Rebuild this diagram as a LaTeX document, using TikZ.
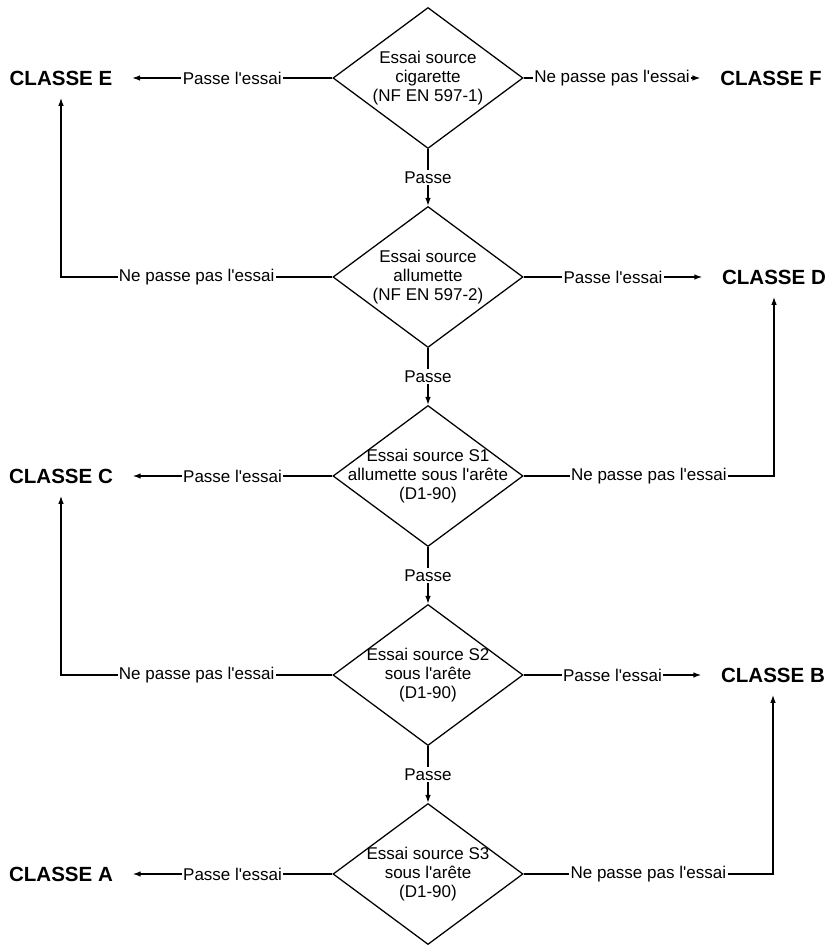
\documentclass[tikz,border=0pt]{standalone}
\usepackage{fontspec}
\newfontfamily\arial{Liberation Sans}
\usetikzlibrary{shapes.geometric,arrows.meta}

\tikzset{
  test/.style={diamond, draw, minimum width=4.75cm, minimum height=3.525cm, inner sep=0pt},
  testtxt/.style={align=center, font=\arial\fontsize{12.1}{13.6}\selectfont},
  classe/.style={font=\arial\bfseries\fontsize{14.6}{16}\selectfont, inner xsep=0.48cm, inner ysep=0.3cm},
  lbl/.style={fill=white, inner xsep=1pt, inner ysep=1pt, font=\arial\fontsize{12.1}{13.6}\selectfont}
}

\begin{document}
\begin{tikzpicture}[x=0.025cm, y=-0.025cm, line width=0.9pt, >={Latex[length=2mm,width=1.4mm]}]
  \useasboundingbox (0,0) rectangle (828,945);
  % tests
  \node[test] (d1) at (428,78) {};
  \node[test] (d2) at (428,277) {};
  \node[test] (d3) at (428,476) {};
  \node[test] (d4) at (428,675) {};
  \node[test] (d5) at (428,874) {};
  \node[testtxt] (t1) at (d1) {Essai source\\cigarette\\(NF EN 597-1)};
  \node[testtxt] (t2) at (d2) {Essai source\\allumette\\(NF EN 597-2)};
  \node[testtxt] (t3) at (d3) {Essai source S1\\allumette sous l'arête\\(D1-90)};
  \node[testtxt] (t4) at (d4) {Essai source S2\\sous l'arête\\(D1-90)};
  \node[testtxt] (t5) at (d5) {Essai source S3\\sous l'arête\\(D1-90)};
  % classes
  \node[classe] (cE) at (61,78) {CLASSE E};
  \node[classe] (cF) at (771,78) {CLASSE F};
  \node[classe] (cD) at (774,277) {CLASSE D};
  \node[classe] (cC) at (61,476) {CLASSE C};
  \node[classe] (cB) at (773,675) {CLASSE B};
  \node[classe] (cA) at (61,874) {CLASSE A};
  % passe
  \foreach \a/\b in {d1/d2, d2/d3, d3/d4, d4/d5}
    \draw[->] (\a.south) -- node[lbl] {Passe} (\b.north);
  % branches
  \draw[->] (d1.west) -- node[lbl] {Passe l'essai} (cE);
  \draw[->] (d1.east) -- node[lbl] {Ne passe pas l'essai} (cF);
  \draw[->] (d2.west) -- node[lbl] {Ne passe pas l'essai} (d2.west -| cE.south) -- (cE.south);
  \draw[->] (d2.east) -- node[lbl] {Passe l'essai} (cD);
  \draw[->] (d3.west) -- node[lbl] {Passe l'essai} (cC);
  \draw[->] (d3.east) -- node[lbl] {Ne passe pas l'essai} (d3.east -| cD.south) -- (cD.south);
  \draw[->] (d4.west) -- node[lbl] {Ne passe pas l'essai} (d4.west -| cC.south) -- (cC.south);
  \draw[->] (d4.east) -- node[lbl] {Passe l'essai} (cB);
  \draw[->] (d5.west) -- node[lbl] {Passe l'essai} (cA);
  \draw[->] (d5.east) -- node[lbl] {Ne passe pas l'essai} (d5.east -| cB.south) -- (cB.south);
\end{tikzpicture}
\end{document}
